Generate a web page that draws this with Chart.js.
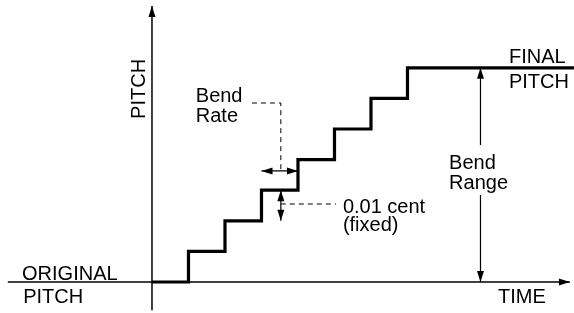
<!DOCTYPE html>
<html>
<head>
<meta charset="utf-8">
<script src="https://cdn.jsdelivr.net/npm/chart.js@4"></script>
<style>
  html, body { margin: 0; padding: 0; background: #fff; }
  #wrap { width: 574px; height: 313px; position: relative; }
</style>
</head>
<body>
<div id="wrap"><canvas id="chart"></canvas></div>
<script>
// staircase: time steps vs pitch levels
const stepTime = [0, 1, 2, 3, 4, 5, 6, 7, 11.56];
const stepLevel = [0, 1, 2, 3, 4, 5, 6, 7, 7];

// axes extents (data units)
const timeAxisX = [-3.95, 11.45];
const pitchAxisY = [-0.92, 9.02];

// bend range dimension line (split around the label)
const rangeX = 9.0;
const rangeUpperY = [7, 4.48];
const rangeLowerY = [2.84, 0];

// bend rate dimension (one step wide) and its leader
const rateY = 3.63;
const rateX = [3, 4];
const rateLeaderX = [2.74, 3.53, 3.53];
const rateLeaderY = [5.85, 5.85, 3.63];

// 0.01 cent dimension (one level high) and its leader
const centX = 3.53;
const centY = [3, 2];
const centLeaderX = [3.53, 5.04];
const centLeaderY = [2.55, 2.55];

// arrow tips: x, y, direction
const arrowTips = [
    [11.45, 0, 'right'],
    [0, 9.02, 'up'],
    [rangeX, 7, 'up'],
    [rangeX, 0, 'down'],
    [3, rateY, 'left'],
    [4, rateY, 'right'],
    [centX, 3, 'up'],
    [centX, 2, 'down']
];

// text labels: text, x, y (left / baseline)
const labelText = ['ORIGINAL', 'PITCH', 'TIME', 'FINAL', 'PITCH', 'Bend', 'Range', '0.01 cent', '(fixed)', 'Bend', 'Rate'];
const labelX = [-3.56, -3.53, 9.48, 9.78, 9.78, 8.14, 8.14, 5.23, 5.23, 1.2, 1.2];
const labelY = [0.07, -0.69, -0.69, 7.16, 6.34, 3.69, 3.04, 2.25, 1.67, 5.88, 5.23];

// rotated axis title
const axisTitle = 'PITCH';
const axisTitleX = -0.19;
const axisTitleY = 6.31;

const pts = (xs, ys) => xs.map((x, i) => ({ x: x, y: ys[i] }));

function lineSet(data, width, dash) {
    return {
        data: data,
        borderColor: '#000',
        borderWidth: width,
        borderDash: dash || [],
        pointRadius: 0,
        fill: false,
        tension: 0
    };
}

const decorPlugin = {
    id: 'decor',
    afterDatasetsDraw(chart) {
        const ctx = chart.ctx;
        const sx = chart.scales.x;
        const sy = chart.scales.y;
        ctx.save();
        ctx.fillStyle = '#000';

        // arrowheads
        arrowTips.forEach(a => {
            const px = sx.getPixelForValue(a[0]);
            const py = sy.getPixelForValue(a[1]);
            const len = 11, half = 3.5;
            ctx.beginPath();
            ctx.moveTo(px, py);
            if (a[2] === 'right') { ctx.lineTo(px - len, py - half); ctx.lineTo(px - len, py + half); }
            if (a[2] === 'left') { ctx.lineTo(px + len, py - half); ctx.lineTo(px + len, py + half); }
            if (a[2] === 'up') { ctx.lineTo(px - half, py + len); ctx.lineTo(px + half, py + len); }
            if (a[2] === 'down') { ctx.lineTo(px - half, py - len); ctx.lineTo(px + half, py - len); }
            ctx.closePath();
            ctx.fill();
        });

        // labels
        ctx.font = '20px "Liberation Sans", Arial, sans-serif';
        ctx.textAlign = 'left';
        ctx.textBaseline = 'alphabetic';
        labelText.forEach((t, i) => {
            ctx.fillText(t, sx.getPixelForValue(labelX[i]), sy.getPixelForValue(labelY[i]));
        });

        // vertical axis title
        ctx.translate(sx.getPixelForValue(axisTitleX), sy.getPixelForValue(axisTitleY));
        ctx.rotate(-Math.PI / 2);
        ctx.textAlign = 'center';
        ctx.fillText(axisTitle, 0, 0);
        ctx.restore();
    }
};

new Chart(document.getElementById('chart'), {
    type: 'line',
    data: {
        datasets: [
            lineSet(pts(timeAxisX, [0, 0]), 1.5),
            lineSet(pts([0, 0], pitchAxisY), 1.5),
            Object.assign(lineSet(pts(stepTime, stepLevel), 3.2), { stepped: 'before' }),
            lineSet(pts([rangeX, rangeX], rangeUpperY), 1.2),
            lineSet(pts([rangeX, rangeX], rangeLowerY), 1.2),
            lineSet(pts(rateX, [rateY, rateY]), 1.2),
            lineSet(pts(rateLeaderX, rateLeaderY), 1, [5, 4]),
            lineSet(pts([centX, centX], centY), 1.2),
            lineSet(pts(centLeaderX, centLeaderY), 1, [5, 4])
        ]
    },
    options: {
        responsive: true,
        maintainAspectRatio: false,
        animation: false,
        layout: { padding: 0 },
        plugins: {
            legend: { display: false },
            tooltip: { enabled: false }
        },
        scales: {
            x: { type: 'linear', min: -4.164, max: 11.562, display: false },
            y: { type: 'linear', min: -1.013, max: 9.216, display: false }
        }
    },
    plugins: [decorPlugin]
});
</script>
</body>
</html>
